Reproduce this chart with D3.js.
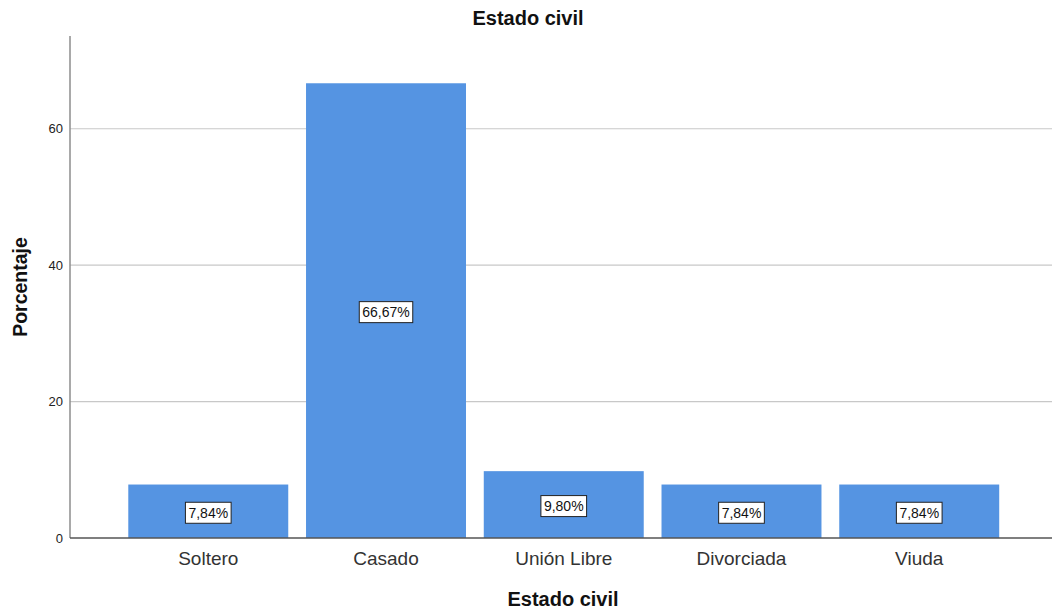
<!DOCTYPE html>
<html>
<head>
<meta charset="utf-8">
<script src="https://cdn.jsdelivr.net/npm/d3@7"></script>
<style>
  html, body { margin: 0; padding: 0; background: #fff; }
  svg { display: block; font-family: Arial, "Liberation Sans", sans-serif; }
</style>
</head>
<body>
<svg id="chart" width="1052" height="610"></svg>
<script>
// Estado civil — porcentaje por categoría
const categories = ["Soltero", "Casado", "Unión Libre", "Divorciada", "Viuda"];
const percentages = [7.84, 66.67, 9.80, 7.84, 7.84];
const yTicks = [0, 20, 40, 60];

const svg = d3.select("#chart");
const plot = { left: 70, right: 1052, top: 36, bottom: 538 };

const x = d3.scaleBand()
  .domain(categories)
  .range([119.4, 1008.1])
  .paddingInner(0.1)
  .paddingOuter(0.05);

const y = d3.scaleLinear()
  .domain([0, 73.6])
  .range([plot.bottom, plot.top]);

const fmt = v => v.toFixed(2).replace(".", ",") + "%";

// gridlines
svg.append("g")
  .selectAll("line")
  .data(yTicks.filter(t => t > 0))
  .join("line")
  .attr("x1", plot.left).attr("x2", plot.right)
  .attr("y1", d => y(d)).attr("y2", d => y(d))
  .attr("stroke", "#c8c8c8").attr("stroke-width", 1.2);

// bars
svg.append("g")
  .selectAll("rect")
  .data(categories)
  .join("rect")
  .attr("x", d => x(d))
  .attr("width", x.bandwidth())
  .attr("y", (d, i) => y(percentages[i]))
  .attr("height", (d, i) => y(0) - y(percentages[i]))
  .attr("fill", "#5594e2");

// y axis
const yAxis = svg.append("g")
  .attr("transform", `translate(${plot.left},0)`)
  .call(d3.axisLeft(y).tickValues(yTicks).tickSize(0).tickPadding(7));
yAxis.select(".domain").remove();
yAxis.selectAll("text")
  .attr("font-size", 13).attr("fill", "#222")
  .attr("font-family", "Arial, 'Liberation Sans', sans-serif");
svg.append("line")
  .attr("x1", plot.left).attr("x2", plot.left)
  .attr("y1", plot.top).attr("y2", plot.bottom)
  .attr("stroke", "#8c8c8c").attr("stroke-width", 1.5);

// x axis
const xAxis = svg.append("g")
  .attr("transform", `translate(0,${plot.bottom})`)
  .call(d3.axisBottom(x).tickSize(0).tickPadding(14));
xAxis.select(".domain").remove();
xAxis.selectAll("text")
  .attr("font-size", 19).attr("fill", "#333")
  .attr("font-family", "Arial, 'Liberation Sans', sans-serif");
svg.append("line")
  .attr("x1", plot.left).attr("x2", plot.right)
  .attr("y1", plot.bottom).attr("y2", plot.bottom)
  .attr("stroke", "#555").attr("stroke-width", 1.3);

// value labels in boxes
const labels = svg.append("g")
  .selectAll("g")
  .data(categories)
  .join("g")
  .attr("transform", (d, i) =>
    `translate(${x(d) + x.bandwidth() / 2},${(y(0) + y(percentages[i])) / 2 + 1.5})`);
labels.each(function (d, i) {
  const g = d3.select(this);
  const t = g.append("text")
    .attr("text-anchor", "middle")
    .attr("dy", "0.36em")
    .attr("font-size", 14)
    .attr("fill", "#111")
    .text(fmt(percentages[i]));
  const bb = t.node().getBBox();
  g.insert("rect", "text")
    .attr("x", bb.x - 3).attr("y", -10.5)
    .attr("width", bb.width + 6).attr("height", 21)
    .attr("fill", "#fff").attr("stroke", "#222").attr("stroke-width", 1);
});

// titles
svg.append("text")
  .attr("x", 528).attr("y", 25)
  .attr("text-anchor", "middle")
  .attr("font-size", 20).attr("font-weight", "bold").attr("fill", "#111")
  .text("Estado civil");

svg.append("text")
  .attr("x", 563).attr("y", 606)
  .attr("text-anchor", "middle")
  .attr("font-size", 20).attr("font-weight", "bold").attr("fill", "#111")
  .text("Estado civil");

svg.append("text")
  .attr("transform", `translate(27,287) rotate(-90)`)
  .attr("text-anchor", "middle")
  .attr("font-size", 19.5).attr("font-weight", "bold").attr("fill", "#111")
  .text("Porcentaje");
</script>
</body>
</html>
